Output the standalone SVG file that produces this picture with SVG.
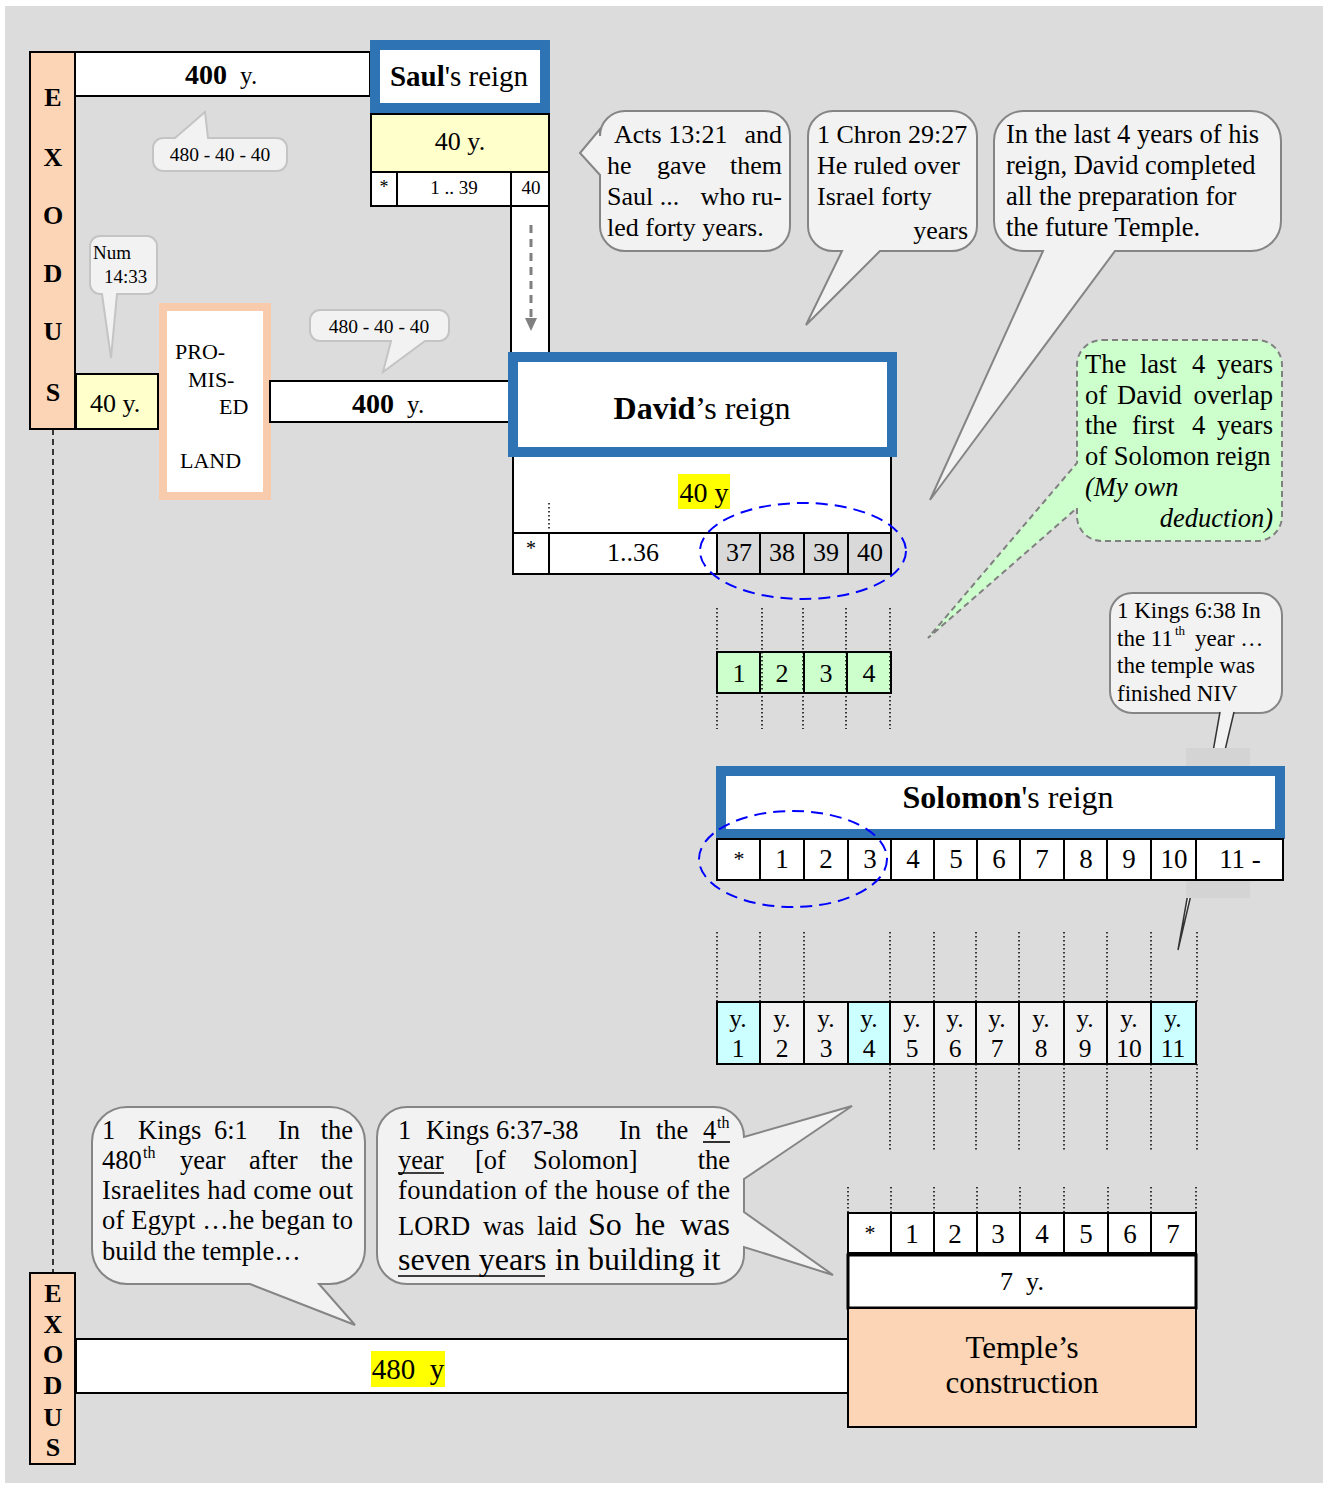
<svg xmlns="http://www.w3.org/2000/svg" width="1325" height="1485" viewBox="0 0 1325 1485">
<style>
text{font-family:"Liberation Serif","Times New Roman",serif;fill:#000}
.b{font-weight:bold}
.i{font-style:italic}
.m{text-anchor:middle}
.e{text-anchor:end}
.box{stroke:#000;stroke-width:2}
.blue{fill:#fff;stroke:#2e74b5;stroke-width:10}
.call{fill:#f2f2f2;stroke:#858585;stroke-width:2}
.call2{fill:#f2f2f2;stroke:#c4c4c4;stroke-width:2}
.dot{stroke:#000;stroke-width:1.5;stroke-dasharray:1.5 2.5;fill:none}
.ell{fill:none;stroke:#0000ff;stroke-width:2;stroke-dasharray:12 7}
.peach{fill:#fbd5b5}
.f26{font-size:26px}
.f27{font-size:27px}
.fc{font-size:26.5px}
</style>
<rect x="0" y="0" width="1325" height="1485" fill="#fff"/>
<rect x="5" y="6" width="1318" height="1477" fill="#dcdcdc"/>

<!-- connectors -->
<g id="connectors">
<line x1="53" y1="429" x2="53" y2="1273" stroke="#000" stroke-width="1.5" stroke-dasharray="6 4"/>
<rect x="511" y="206" width="38" height="150" fill="#fff" class="box"/>
<line x1="531" y1="225" x2="531" y2="318" stroke="#808080" stroke-width="3" stroke-dasharray="8 6"/>
<path d="M525,318 L537,318 L531,331 Z" fill="#808080"/>
</g>

<!-- top exodus -->
<g id="exodus-top">
<rect x="30" y="52" width="45" height="377" class="box peach"/>
<text class="b m f26" x="53" y="106">E</text>
<text class="b m f26" x="53" y="166">X</text>
<text class="b m f26" x="53" y="224">O</text>
<text class="b m f26" x="53" y="282">D</text>
<text class="b m f26" x="53" y="340">U</text>
<text class="b m f26" x="53" y="401">S</text>
</g>

<g id="bar-400-top">
<rect x="75" y="52" width="295" height="44" fill="#fff" class="box"/>
<text x="185" y="84" font-size="28" class="b">400</text>
<text x="240" y="84" font-size="25">y.</text>
</g>

<g id="saul">
<rect x="375" y="45" width="170" height="63" class="blue"/>
<text x="459" y="86" font-size="29" class="m"><tspan class="b">Saul</tspan>'s reign</text>
<rect x="371" y="114" width="178" height="58" fill="#ffffcc" class="box"/>
<text x="460" y="150" class="m f26">40 y.</text>
<rect x="371" y="172" width="26" height="34" fill="#fff" class="box"/>
<rect x="397" y="172" width="114" height="34" fill="#fff" class="box"/>
<rect x="511" y="172" width="38" height="34" fill="#fff" class="box"/>
<text x="384" y="193" font-size="18" class="m">*</text>
<text x="454" y="194" font-size="19" class="m">1 .. 39</text>
<text x="531" y="194" font-size="19" class="m">40</text>
</g>

<g id="callout-480-a">
<path class="call2" d="M163,138 H175 L205,112 L208,138 H277 A10,10 0 0 1 287,148 V161 A10,10 0 0 1 277,171 H163 A10,10 0 0 1 153,161 V148 A10,10 0 0 1 163,138 Z"/>
<text x="220" y="161" font-size="19.5" class="m">480 - 40 - 40</text>
</g>

<g id="callout-num">
<path class="call2" d="M100,236 H147 A10,10 0 0 1 157,246 V284 A10,10 0 0 1 147,294 H117 L111,358 L102,294 H100 A10,10 0 0 1 90,284 V246 A10,10 0 0 1 100,236 Z"/>
<text x="93" y="259" font-size="19">Num</text>
<text x="104" y="283" font-size="19">14:33</text>
</g>

<g id="wilderness-40">
<rect x="76" y="374" width="82" height="55" fill="#ffffcc" class="box"/>
<text x="90" y="412" class="f26">40 y.</text>
</g>

<g id="promised-land">
<rect x="163" y="307" width="104" height="189" fill="#fff" stroke="#f8cbad" stroke-width="8"/>
<text x="175" y="359" font-size="22">PRO-</text>
<text x="188" y="387" font-size="22">MIS-</text>
<text x="219" y="414" font-size="22">ED</text>
<text x="180" y="468" font-size="22">LAND</text>
</g>

<g id="callout-480-b">
<path class="call2" d="M320,310 H439 A10,10 0 0 1 449,320 V331 A10,10 0 0 1 439,341 H425 L383,372 L391,341 H320 A10,10 0 0 1 310,331 V320 A10,10 0 0 1 320,310 Z"/>
<text x="379" y="333" font-size="19.5" class="m">480 - 40 - 40</text>
</g>

<g id="bar-400-mid">
<rect x="270" y="381" width="240" height="41" fill="#fff" class="box"/>
<text x="352" y="413" font-size="28" class="b">400</text>
<text x="407" y="413" font-size="25">y.</text>
</g>

<g id="david">
<rect x="513" y="452" width="378" height="81" fill="#fff" class="box"/>
<rect x="678" y="474" width="52" height="35" fill="#ffff00"/>
<text x="704" y="502" font-size="28" class="m">40 y</text>
<line x1="549" y1="503" x2="549" y2="531" class="dot"/>
<rect x="513" y="357" width="379" height="95" class="blue"/>
<text x="702" y="419" font-size="32" class="m"><tspan class="b">David</tspan>’s reign</text>
<rect x="513" y="533" width="36" height="41" fill="#fff" class="box"/>
<rect x="549" y="533" width="168" height="41" fill="#fff" class="box"/>
<rect x="717" y="533" width="43" height="41" fill="#d9d9d9" class="box"/>
<rect x="760" y="533" width="44" height="41" fill="#d9d9d9" class="box"/>
<rect x="804" y="533" width="44" height="41" fill="#d9d9d9" class="box"/>
<rect x="848" y="533" width="43" height="41" fill="#d9d9d9" class="box"/>
<text x="531" y="555" font-size="20" class="m">*</text>
<text x="633" y="561" class="m f26">1..36</text>
<text x="739" y="561" class="m f26">37</text>
<text x="782" y="561" class="m f26">38</text>
<text x="826" y="561" class="m f26">39</text>
<text x="870" y="561" class="m f26">40</text>
<ellipse cx="803" cy="551" rx="103" ry="48" class="ell"/>
</g>

<g id="overlap-years">
<rect x="717" y="652" width="43" height="41" fill="#ccffcc" class="box"/>
<rect x="760" y="652" width="44" height="41" fill="#ccffcc" class="box"/>
<rect x="804" y="652" width="43" height="41" fill="#ccffcc" class="box"/>
<rect x="847" y="652" width="44" height="41" fill="#ccffcc" class="box"/>
<text x="739" y="682" class="m f26">1</text>
<text x="782" y="682" class="m f26">2</text>
<text x="826" y="682" class="m f26">3</text>
<text x="869" y="682" class="m f26">4</text>
<g class="dot">
<line x1="717" y1="608" x2="717" y2="729"/>
<line x1="762" y1="608" x2="762" y2="729"/>
<line x1="803" y1="608" x2="803" y2="729"/>
<line x1="846" y1="608" x2="846" y2="729"/>
<line x1="890" y1="608" x2="890" y2="729"/>
</g>
</g>

<g id="callout-acts">
<path class="call" d="M625,111 H765 A25,25 0 0 1 790,136 V226 A25,25 0 0 1 765,251 H625 A25,25 0 0 1 600,226 V175 L580,153 L600,129 V136 A25,25 0 0 1 625,111 Z"/>
<text x="614" y="143" class="f26">Acts 13:21</text>
<text x="782" y="143" class="f26 e">and</text>
<text x="607" y="174" class="f26">he</text>
<text x="657" y="174" class="f26">gave</text>
<text x="782" y="174" class="f26 e">them</text>
<text x="607" y="205" class="f26">Saul ...</text>
<text x="782" y="205" class="f26 e">who ru-</text>
<text x="607" y="236" class="f26">led forty years.</text>
</g>

<g id="callout-chron">
<path class="call" d="M833,111 H952 A25,25 0 0 1 977,136 V226 A25,25 0 0 1 952,251 H880 L806,325 L842,251 H833 A25,25 0 0 1 808,226 V136 A25,25 0 0 1 833,111 Z"/>
<text x="817" y="143" class="f26">1 Chron 29:27</text>
<text x="817" y="174" class="f26">He ruled over</text>
<text x="817" y="205" class="f26">Israel forty</text>
<text x="968" y="239" class="f26 e">years</text>
</g>

<g id="callout-preparation">
<path class="call" d="M1024,111 H1251 A30,30 0 0 1 1281,141 V221 A30,30 0 0 1 1251,251 H1115 L930,500 L1043,251 H1024 A30,30 0 0 1 994,221 V141 A30,30 0 0 1 1024,111 Z"/>
<text x="1006" y="143" font-size="26.5">In the last 4 years of his</text>
<text x="1006" y="174" font-size="26.5">reign, David completed</text>
<text x="1006" y="205" font-size="26.5">all the preparation for</text>
<text x="1006" y="236" font-size="26.5">the future Temple.</text>
</g>

<g id="callout-deduction">
<path d="M1102,340 H1257 A25,25 0 0 1 1282,365 V516 A25,25 0 0 1 1257,541 H1102 A25,25 0 0 1 1077,516 V508 L928,638 L1077,463 V365 A25,25 0 0 1 1102,340 Z" fill="#ccffcc" stroke="#808080" stroke-width="2" stroke-dasharray="6 4"/>
<text x="1085" y="373" font-size="26.5">The</text>
<text x="1140" y="373" font-size="26.5">last</text>
<text x="1192" y="373" font-size="26.5">4</text>
<text x="1273" y="373" font-size="26.5" class="e">years</text>
<text x="1085" y="404" font-size="26.5">of</text>
<text x="1117" y="404" font-size="26.5">David</text>
<text x="1273" y="404" font-size="26.5" class="e">overlap</text>
<text x="1085" y="434" font-size="26.5">the</text>
<text x="1132" y="434" font-size="26.5">first</text>
<text x="1192" y="434" font-size="26.5">4</text>
<text x="1273" y="434" font-size="26.5" class="e">years</text>
<text x="1085" y="465" font-size="26.5">of Solomon reign</text>
<text x="1085" y="496" font-size="26.5" class="i">(My own</text>
<text x="1273" y="527" font-size="26.5" class="i e">deduction)</text>
</g>

<g id="callout-kings-638">
<rect x="1110" y="593" width="172" height="120" rx="22" class="call"/>
<path d="M1220,712 L1178,950 L1234,712" fill="#f2f2f2" stroke="#333" stroke-width="1.5"/>
<text x="1117" y="618" font-size="23">1 Kings 6:38 In</text>
<text x="1117" y="646" font-size="23">the 11</text>
<text x="1175" y="635" font-size="13">th</text>
<text x="1195" y="646" font-size="23">year …</text>
<text x="1117" y="673" font-size="23">the temple was</text>
<text x="1117" y="701" font-size="23">finished NIV</text>
<rect x="1186" y="748" width="64" height="150" fill="#d4d4d4"/>
</g>

<g id="solomon">
<rect x="721" y="771" width="559" height="63" class="blue"/>
<text x="1008" y="808" font-size="32" class="m"><tspan class="b">Solomon</tspan>'s reign</text>
<g fill="#fff" class="box">
<rect x="717" y="839" width="43" height="41"/>
<rect x="760" y="839" width="44" height="41"/>
<rect x="804" y="839" width="44" height="41"/>
<rect x="848" y="839" width="43" height="41"/>
<rect x="891" y="839" width="43" height="41"/>
<rect x="934" y="839" width="43" height="41"/>
<rect x="977" y="839" width="43" height="41"/>
<rect x="1020" y="839" width="44" height="41"/>
<rect x="1064" y="839" width="43" height="41"/>
<rect x="1107" y="839" width="44" height="41"/>
<rect x="1151" y="839" width="45" height="41"/>
<rect x="1196" y="839" width="87" height="41"/>
</g>
<text x="739" y="866" font-size="22" class="m">*</text>
<text x="782" y="868" class="m f27">1</text>
<text x="826" y="868" class="m f27">2</text>
<text x="870" y="868" class="m f27">3</text>
<text x="913" y="868" class="m f27">4</text>
<text x="956" y="868" class="m f27">5</text>
<text x="999" y="868" class="m f27">6</text>
<text x="1042" y="868" class="m f27">7</text>
<text x="1086" y="868" class="m f27">8</text>
<text x="1129" y="868" class="m f27">9</text>
<text x="1174" y="868" class="m f27">10</text>
<text x="1240" y="868" class="m f27">11 -</text>
<ellipse cx="793" cy="859" rx="94" ry="48" class="ell"/>
</g>

<g id="solomon-years">
<g class="dot">
<line x1="717" y1="932" x2="717" y2="1002"/>
<line x1="760" y1="932" x2="760" y2="1002"/>
<line x1="804" y1="932" x2="804" y2="1002"/>
<line x1="890" y1="932" x2="890" y2="1002"/>
<line x1="934" y1="932" x2="934" y2="1002"/>
<line x1="976" y1="932" x2="976" y2="1002"/>
<line x1="1019" y1="932" x2="1019" y2="1002"/>
<line x1="1064" y1="932" x2="1064" y2="1002"/>
<line x1="1107" y1="932" x2="1107" y2="1002"/>
<line x1="1151" y1="932" x2="1151" y2="1002"/>
<line x1="1197" y1="932" x2="1197" y2="1002"/>
<line x1="890" y1="1064" x2="890" y2="1150"/>
<line x1="934" y1="1064" x2="934" y2="1150"/>
<line x1="976" y1="1064" x2="976" y2="1150"/>
<line x1="1019" y1="1064" x2="1019" y2="1150"/>
<line x1="1064" y1="1064" x2="1064" y2="1150"/>
<line x1="1107" y1="1064" x2="1107" y2="1150"/>
<line x1="1151" y1="1064" x2="1151" y2="1150"/>
<line x1="1197" y1="1064" x2="1197" y2="1150"/>
</g>
<g class="box">
<rect x="717" y="1002" width="43" height="62" fill="#ccffff"/>
<rect x="760" y="1002" width="44" height="62" fill="#f2f2f2"/>
<rect x="804" y="1002" width="44" height="62" fill="#f2f2f2"/>
<rect x="848" y="1002" width="42" height="62" fill="#ccffff"/>
<rect x="890" y="1002" width="44" height="62" fill="#f2f2f2"/>
<rect x="934" y="1002" width="42" height="62" fill="#f2f2f2"/>
<rect x="976" y="1002" width="43" height="62" fill="#f2f2f2"/>
<rect x="1019" y="1002" width="45" height="62" fill="#f2f2f2"/>
<rect x="1064" y="1002" width="43" height="62" fill="#f2f2f2"/>
<rect x="1107" y="1002" width="44" height="62" fill="#f2f2f2"/>
<rect x="1151" y="1002" width="45" height="62" fill="#ccffff"/>
</g>
<g font-size="25.5">
<text x="738" y="1027" class="m">y.</text><text x="738" y="1057" class="m">1</text>
<text x="782" y="1027" class="m">y.</text><text x="782" y="1057" class="m">2</text>
<text x="826" y="1027" class="m">y.</text><text x="826" y="1057" class="m">3</text>
<text x="869" y="1027" class="m">y.</text><text x="869" y="1057" class="m">4</text>
<text x="912" y="1027" class="m">y.</text><text x="912" y="1057" class="m">5</text>
<text x="955" y="1027" class="m">y.</text><text x="955" y="1057" class="m">6</text>
<text x="997" y="1027" class="m">y.</text><text x="997" y="1057" class="m">7</text>
<text x="1041" y="1027" class="m">y.</text><text x="1041" y="1057" class="m">8</text>
<text x="1085" y="1027" class="m">y.</text><text x="1085" y="1057" class="m">9</text>
<text x="1129" y="1027" class="m">y.</text><text x="1129" y="1057" class="m">10</text>
<text x="1173" y="1027" class="m">y.</text><text x="1173" y="1057" class="m">11</text>
</g>
</g>

<g id="callout-kings-61">
<path class="call" d="M127,1107 H330 A35,35 0 0 1 365,1142 V1249 A35,35 0 0 1 330,1284 H319 L355,1325 L250,1284 H127 A35,35 0 0 1 92,1249 V1142 A35,35 0 0 1 127,1107 Z"/>
<g class="fc">
<text x="102" y="1139">1</text>
<text x="138" y="1139">Kings</text>
<text x="214" y="1139">6:1</text>
<text x="278" y="1139">In</text>
<text x="353" y="1139" class="e">the</text>
<text x="102" y="1169">480</text>
<text x="180" y="1169">year</text>
<text x="249" y="1169">after</text>
<text x="353" y="1169" class="e">the</text>
<text x="102" y="1199" textLength="251" lengthAdjust="spacing">Israelites had come out</text>
<text x="102" y="1229" textLength="251" lengthAdjust="spacing">of Egypt …he began to</text>
<text x="102" y="1260">build the temple…</text>
</g>
<text x="143" y="1158" font-size="16">th</text>
</g>

<g id="callout-kings-637">
<path class="call" d="M407,1107 H714 A30,30 0 0 1 744,1137 L852,1106 L744,1179 V1212 L833,1275 L744,1247 V1254 A30,30 0 0 1 714,1284 H407 A30,30 0 0 1 377,1254 V1137 A30,30 0 0 1 407,1107 Z"/>
<g class="fc">
<text x="398" y="1139">1</text>
<text x="426" y="1139">Kings</text>
<text x="496" y="1139">6:37-38</text>
<text x="619" y="1139">In</text>
<text x="656" y="1139">the</text>
<text x="703" y="1139">4</text>
<text x="398" y="1169">year</text>
<text x="475" y="1169">[of</text>
<text x="533" y="1169">Solomon]</text>
<text x="730" y="1169" class="e">the</text>
<text x="398" y="1199" textLength="332" lengthAdjust="spacing">foundation of the house of the</text>
<text x="398" y="1235">LORD</text>
<text x="483" y="1235">was</text>
<text x="537" y="1235">laid</text>
</g>
<text x="717" y="1128" font-size="16">th</text>
<text x="588" y="1235" font-size="32">So</text>
<text x="635" y="1235" font-size="32">he</text>
<text x="730" y="1235" font-size="32" class="e">was</text>
<text x="398" y="1270" font-size="32">seven years</text>
<text x="555" y="1270" font-size="32">in building it</text>
<g stroke="#000" stroke-width="1.6">
<line x1="703" y1="1142" x2="730" y2="1142"/>
<line x1="398" y1="1173" x2="444" y2="1173"/>
<line x1="398" y1="1276" x2="545" y2="1276"/>
</g>
</g>

<g id="temple">
<g class="dot">
<line x1="848" y1="1187" x2="848" y2="1213"/>
<line x1="891" y1="1187" x2="891" y2="1213"/>
<line x1="934" y1="1187" x2="934" y2="1213"/>
<line x1="977" y1="1187" x2="977" y2="1213"/>
<line x1="1020" y1="1187" x2="1020" y2="1213"/>
<line x1="1064" y1="1187" x2="1064" y2="1213"/>
<line x1="1108" y1="1187" x2="1108" y2="1213"/>
<line x1="1151" y1="1187" x2="1151" y2="1213"/>
<line x1="1196" y1="1187" x2="1196" y2="1213"/>
</g>
<g fill="#fff" class="box">
<rect x="848" y="1213" width="43" height="40"/>
<rect x="891" y="1213" width="43" height="40"/>
<rect x="934" y="1213" width="43" height="40"/>
<rect x="977" y="1213" width="43" height="40"/>
<rect x="1020" y="1213" width="44" height="40"/>
<rect x="1064" y="1213" width="44" height="40"/>
<rect x="1108" y="1213" width="43" height="40"/>
<rect x="1151" y="1213" width="45" height="40"/>
</g>
<text x="870" y="1240" font-size="22" class="m">*</text>
<text x="912" y="1243" class="m f27">1</text>
<text x="955" y="1243" class="m f27">2</text>
<text x="998" y="1243" class="m f27">3</text>
<text x="1042" y="1243" class="m f27">4</text>
<text x="1086" y="1243" class="m f27">5</text>
<text x="1130" y="1243" class="m f27">6</text>
<text x="1173" y="1243" class="m f27">7</text>
<rect x="848" y="1255" width="348" height="53" fill="#fff" stroke="#000" stroke-width="3"/>
<text x="1022" y="1290" class="m f26" xml:space="preserve">7  y.</text>
<rect x="848" y="1308" width="348" height="119" class="box peach"/>
<text x="1022" y="1358" font-size="31" class="m">Temple’s</text>
<text x="1022" y="1393" font-size="31" class="m">construction</text>
</g>

<g id="bar-480">
<rect x="76" y="1339" width="772" height="54" fill="#fff" class="box"/>
<rect x="371" y="1351" width="74" height="36" fill="#ffff00"/>
<text x="408" y="1379" font-size="29" class="m" xml:space="preserve">480  y</text>
</g>

<g id="exodus-bottom">
<rect x="30" y="1273" width="45" height="191" class="box peach"/>
<text class="b m f26" x="53" y="1302">E</text>
<text class="b m f26" x="53" y="1333">X</text>
<text class="b m f26" x="53" y="1363">O</text>
<text class="b m f26" x="53" y="1394">D</text>
<text class="b m f26" x="53" y="1426">U</text>
<text class="b m f26" x="53" y="1456">S</text>
</g>
</svg>
